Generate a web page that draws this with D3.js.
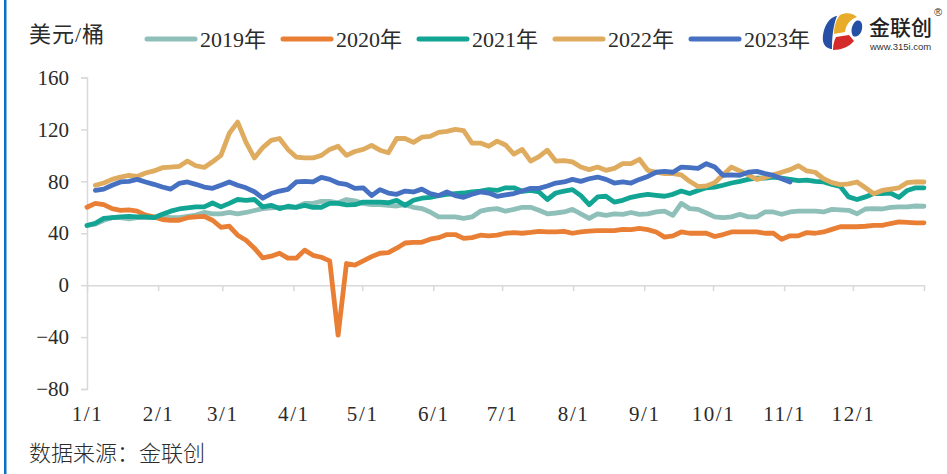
<!DOCTYPE html>
<html><head><meta charset="utf-8">
<script src="https://cdn.jsdelivr.net/npm/d3@7/dist/d3.min.js"></script>
<style>html,body{margin:0;padding:0;background:#fff}svg{display:block}</style>
</head><body><svg id="c" width="947" height="474"></svg>
<script>
const yearLabels = ["2019年","2020年","2021年","2022年","2023年"];
const monthLabels = ["1/1","2/1","3/1","4/1","5/1","6/1","7/1","8/1","9/1","10/1","11/1","12/1",""];
const monthDays = [0,31,59,90,120,151,181,212,243,273,304,334,365];
const yTicks = [160,120,80,40,0,-40,-80];
const sampleStep = 3.65;
const s2019 = [46,47,50,52,52,51,52,52,52,53,52,52,53,54,56,55,55,56,55,56,57.5,59,59.5,60,60,60,63,63,64.5,64.5,63.5,66,65,63,62,62,61.5,61,62,60,59,56.4,52.6,52.6,52.6,51.4,52.6,57,58.4,59,57,58.4,60,60,57.7,55,55.6,56.4,58.4,55,51.4,55,53.8,55,54.6,56,54.6,55,56.4,57,53.8,63,59,58.4,55.6,52.6,52,52.6,54.6,52.6,52.6,56.4,56.4,54.6,56.4,57,57,57,56.4,58.4,58,57.7,55,58.7,59,58.7,60,60.3,60.3,61,60.8];
const s2020 = [60,63,62,59,57.7,58,57,54,52.6,50.6,50,50,52,52.6,53,50,44.6,45.4,38.5,34.6,28.5,21,22.3,24.6,20.8,20.8,27,23,21.5,18.7,-38.5,16.7,15.5,18.7,22,24.6,25,28.5,32.5,33,33,35.4,36.6,39,39,36,36.6,38.5,38,38.5,40,40.5,40,40.6,41.4,41,41,41.5,40,41,41.7,42,42,42,43,42.8,43.8,42.8,41,37,38,41,40,40,40,37.5,39,41,41,41,41,40,40,35.4,38,38,40.5,40,41,43,45,45,45,45.4,46,46,47.5,48.7,48.3,48,48];
const s2021 = [46,47.7,51.5,52,52.6,53,52.6,52.6,52,54.6,57,58.7,59.5,60.3,60.3,63.3,60.3,63,66,65.4,66,60.3,61.5,59,60.8,60,61.5,60,60,63,63,61.8,62,64,64,64,63.5,65.4,61.5,65.4,67,67.7,69,70,70.6,71,71.8,72.5,73.6,73,75,75,72.3,73,71.8,66,71,72.5,73.6,69,62,68,68.5,64,65.4,67.7,69,70,69.2,68.5,70,72.5,70.6,73,75,75.6,77,78.7,80,81.5,82.5,82.5,83.3,82.5,81.5,80.5,81,80,79.5,77.7,76,68,66,68,70.6,70.6,71,67.7,73,75,75];
const s2022 = [null,77,78.7,81.5,83.3,84.6,83.8,86.4,88,90.5,91,91.5,95.6,92,90.7,95,100,117,125.6,110,98,106,111.5,113,104.6,98.7,98,98,100,104.6,107,100,103,104.6,107.7,104,102,113,113,110,114,114.6,117.7,118.5,120,119,109.5,109.5,107,111,108,101,104.6,95.6,99,104,95.6,96,95,91,89,91,88.5,90,93.6,93.6,97,88.5,87,86,86,85,80,76,76.5,79,85,91,88,85,81.5,83,85,87,89,92,88,87,82,79,77.5,78,79.5,75,70.5,73,74,75,79,79.5,79.5];
const s2023 = [null,73,74,77,79.5,80,81.5,79.5,77.7,75.6,74,78.4,79.5,77.7,75.6,74.6,77,79.5,77,75,72,67,70.6,72.5,73.8,79.5,80,79.5,83,81.5,78.7,77.7,74.6,75,69,73.6,71,70,72.5,71.8,74,70.6,69,71.8,69,67.7,70,71.8,71,68.5,69.5,70.6,72.5,74.6,74.6,76.4,78.7,79.5,81.5,80,82,83.3,81.5,78.7,79.5,78.7,81.5,83.8,87,87.7,87,91,90.5,90,93.6,91,84.6,85,84.6,87,87.7,86,84.6,82,79.5];
const seriesList = [s2019,s2020,s2021,s2022,s2023];
const colors = ["#8fbfb9","#e97f35","#12a594","#dfab5f","#4670c2"];

const svg = d3.select("#c");
const serif = "'Liberation Serif','Noto Sans CJK SC',serif";
const cjk = "'Noto Sans CJK SC',sans-serif";
const x = d3.scaleLinear().domain([0,365]).range([87,924]);
const y = d3.scaleLinear().domain([-80,160]).range([389,77.5]);

svg.append("rect").attr("x",4).attr("y",0).attr("width",2.5).attr("height",474).attr("fill","#0b6fc9");

const yAxis = svg.append("g").attr("transform","translate(87,0)")
  .call(d3.axisLeft(y).tickValues(yTicks).tickSize(6).tickPadding(12).tickFormat(d=>d<0?"\u2212"+(-d):d));
const xAxis = svg.append("g").attr("transform",`translate(0,${y(0)})`)
  .call(d3.axisBottom(x).tickValues(monthDays).tickSize(6).tickSizeOuter(0).tickFormat((d,i)=>monthLabels[i]));
[yAxis,xAxis].forEach(a=>{
  a.select(".domain").attr("stroke","#d9d9d9").attr("stroke-width",1.5);
  a.selectAll("line").attr("stroke","#d9d9d9").attr("stroke-width",1.5);
  a.selectAll("text").attr("fill","#2b2b2b").style("font-family",serif).style("font-size","21px");
});
xAxis.selectAll("text").attr("y",136).attr("dy",0).style("letter-spacing","1.6px");

const line = d3.line().defined(d=>d!==null&&d!==undefined).x((d,i)=>x(i*sampleStep)).y(d=>y(d));
svg.append("g").selectAll("path").data(seriesList).join("path")
  .attr("d",d=>line(d)).attr("fill","none").attr("stroke",(d,i)=>colors[i])
  .attr("stroke-width",4.8).attr("stroke-linejoin","round").attr("stroke-linecap","round");

const legendStep = 136;
const legend = svg.append("g").selectAll("g").data(yearLabels).join("g")
  .attr("transform",(d,i)=>`translate(${147+i*legendStep},0)`);
legend.append("line").attr("x1",0).attr("x2",48).attr("y1",39).attr("y2",39)
  .attr("stroke",(d,i)=>colors[i]).attr("stroke-width",5).attr("stroke-linecap","round");
legend.append("text").attr("x",53).attr("y",47).text(d=>d)
  .style("font-family",serif).style("font-size","22px").attr("fill","#2b2b2b");

svg.append("text").attr("x",29).attr("y",42).text("美元/桶")
  .style("font-family",serif).style("font-size","22px").style("letter-spacing","1px").attr("fill","#2b2b2b");
svg.append("text").attr("x",29).attr("y",461).text("数据来源\uFF1A金联创")
  .style("font-family","'Noto Sans CJK SC',sans-serif").style("font-size","22px").style("font-weight",300).attr("fill","#2b2b2b");

const logo = svg.append("g");
logo.append("path").attr("d","M837 16C828 17 822 30 823 41C824 47 829 49 832 49C832 38 833 26 837 16Z").attr("fill","#2550a5");
logo.append("path").attr("d","M840 15C846 12 853 13 857 17C851 19 846 24 845 32L834 34C834 26 836 20 840 15Z").attr("fill","#e8ac2a");
logo.append("path").attr("d","M856 21C861 19 863 24 862 29C861 35 856 38 853 36C850 31 852 24 856 21Z").attr("fill","#2550a5");
logo.append("path").attr("d","M836 37L849 35L854 41C849 47 841 50 833 50C833 45 834 41 836 37Z").attr("fill","#d42a2a");
logo.append("text").attr("x",869).attr("y",35).text("金联创").style("font-family",cjk).style("font-size","21px").style("font-weight",500).attr("fill","#222");
logo.append("text").attr("x",870).attr("y",50).text("www.315i.com").style("font-family","'Liberation Sans',sans-serif").style("font-size","9.5px").attr("fill","#333");
logo.append("text").attr("x",934).attr("y",16).text("®").style("font-family","'Liberation Sans',sans-serif").style("font-size","11px").attr("fill","#333");
</script></body></html>
